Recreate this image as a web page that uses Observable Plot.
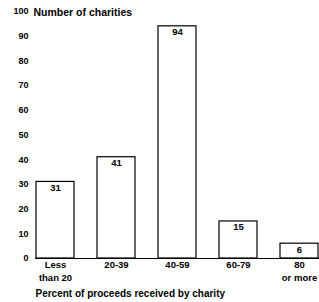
<!DOCTYPE html>
<html>
<head>
<meta charset="utf-8">
<script src="https://cdn.jsdelivr.net/npm/d3@7"></script>
<script src="https://cdn.jsdelivr.net/npm/@observablehq/plot@0.6"></script>
<style>
  html, body { margin: 0; padding: 0; background: #fff; }
  svg { font-family: "Liberation Sans", Arial, Helvetica, sans-serif; }
</style>
</head>
<body>
<div id="chart"></div>
<script>
const categories = ["Less\nthan 20", "20-39", "40-59", "60-79", "80\nor more"];
const values = [31, 41, 94, 15, 6];
const yTicks = [0, 10, 20, 30, 40, 50, 60, 70, 80, 90, 100];
const yTitle = "Number of charities";
const xTitle = "Percent of proceeds received by charity";

const data = categories.map((c, i) => ({category: c, value: values[i]}));

const chart = Plot.plot({
  width: 319,
  height: 302,
  marginLeft: 35,
  marginRight: 0,
  marginTop: 11,
  marginBottom: 44,
  style: {fontSize: "9px", fontWeight: "bold", color: "#000", background: "#fff"},
  x: {domain: categories, paddingInner: 0.38, paddingOuter: 0, label: null},
  y: {domain: [0, 100], label: null},
  marks: [
    Plot.axisY({ticks: yTicks, tickSize: 0, tickPadding: 7, label: null, fontWeight: "bold"}),
    Plot.axisX({tickSize: 0, tickPadding: 1, label: null, lineHeight: 1.3, fontWeight: "bold", fontSize: 9.5}),
    Plot.barY(data, {x: "category", y: "value", fill: "#fff", stroke: "#000", strokeWidth: 1.2}),
    Plot.ruleY([0], {stroke: "#000", strokeWidth: 1.2}),
    Plot.text(data, {x: "category", y: "value", text: d => String(d.value), dy: 6, fontSize: 9.5, fontWeight: "bold", fill: "#000"}),
    Plot.text([yTitle], {frameAnchor: "top-left", dx: -2, dy: 1, lineAnchor: "middle", textAnchor: "start", fontSize: 10.5, fontWeight: "bold", fill: "#000"}),
    Plot.text([xTitle], {frameAnchor: "bottom-left", dy: 35, lineAnchor: "middle", textAnchor: "start", fontSize: 10, fontWeight: "bold", fill: "#000"})
  ]
});
document.getElementById("chart").appendChild(chart);
</script>
</body>
</html>
